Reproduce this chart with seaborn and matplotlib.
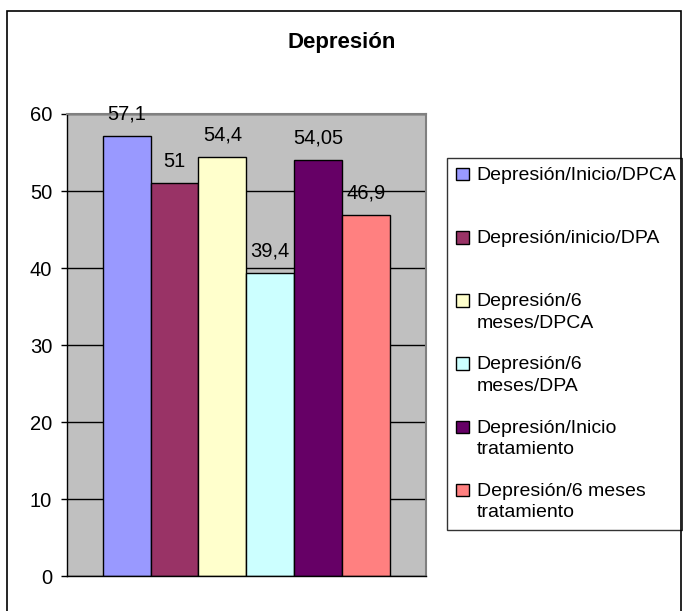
import matplotlib
matplotlib.use("Agg")
import matplotlib.pyplot as plt
import seaborn as sns
from matplotlib.patches import Rectangle
from matplotlib.legend_handler import HandlerPatch

# Data
series = [
    "Depresión/Inicio/DPCA",
    "Depresión/inicio/DPA",
    "Depresión/6\nmeses/DPCA",
    "Depresión/6\nmeses/DPA",
    "Depresión/Inicio\ntratamiento",
    "Depresión/6 meses\ntratamiento",
]
values = [57.1, 51, 54.4, 39.4, 54.05, 46.9]
colors = ["#9999FF", "#993366", "#FFFFCC", "#CCFFFF", "#660066", "#FF8080"]
yticks = [0, 10, 20, 30, 40, 50, 60]

sns.set_style("white")
plt.rcParams["font.family"] = ["Liberation Sans", "DejaVu Sans"]
plt.rcParams["text.color"] = "black"
plt.rcParams["ytick.color"] = "black"

fig = plt.figure(figsize=(6.83, 6.11), dpi=100)
ax = fig.add_axes([0.0977, 0.0565, 0.526, 0.757])

sns.barplot(x=[""] * len(values), y=values, hue=series, palette=colors,
            width=0.8, saturation=1, edgecolor="black", linewidth=1.0,
            errorbar=None, ax=ax)

# data labels, comma as decimal sign
for cont, v in zip(ax.containers, values):
    ax.bar_label(cont, labels=[f"{v:g}".replace(".", ",")], padding=9,
                 fontsize=14.5, color="black")

ax.set_facecolor("#C0C0C0")
ax.set_ylim(0, 60)
ax.set_yticks(yticks)
ax.tick_params(axis="y", labelsize=14.5, length=4.5, width=1, color="black",
               left=True, direction="out", pad=6)
ax.tick_params(axis="x", bottom=False, labelbottom=False)
ax.yaxis.grid(True, color="black", linewidth=1)
ax.set_axisbelow(True)
for side in ["top", "right"]:
    ax.spines[side].set_color("#808080")
    ax.spines[side].set_linewidth(1.5)
for side in ["left", "bottom"]:
    ax.spines[side].set_color("black")
    ax.spines[side].set_linewidth(1)

fig.suptitle("Depresión", x=0.5, y=0.931, va="center", fontsize=16,
             fontweight="bold")

# legend: every entry two lines high, colour box next to the first line
fs = 14
shift = 0.6 * fs


def first_line_box(legend, orig_handle, xdescent, ydescent, width, height, fontsize):
    return Rectangle((-xdescent, -ydescent + shift), width, height)


handles, labels = ax.get_legend_handles_labels()
labels = [lab if "\n" in lab else lab + "\n" for lab in labels]
leg = ax.legend(handles, labels, loc="upper left", mode="expand",
                bbox_to_anchor=(0.6545, 0.1277, 0.3435, 0.6138),
                bbox_transform=fig.transFigure, frameon=True, fancybox=False,
                edgecolor="black", fontsize=fs, handlelength=0.67,
                handleheight=0.62, handletextpad=0.4, labelspacing=1.27,
                borderpad=0.45, borderaxespad=0,
                handler_map={Rectangle: HandlerPatch(patch_func=first_line_box)})
leg.get_frame().set_linewidth(1)
for t in leg.get_texts():
    t.set_linespacing(1.35)

# outer chart border (bottom edge falls outside the picture)
fig.patches.append(Rectangle((0.0102, -0.02), 0.9876, 1.0028, transform=fig.transFigure,
                             fill=False, edgecolor="black", linewidth=1.2))

fig.savefig("out.png", dpi=100)
